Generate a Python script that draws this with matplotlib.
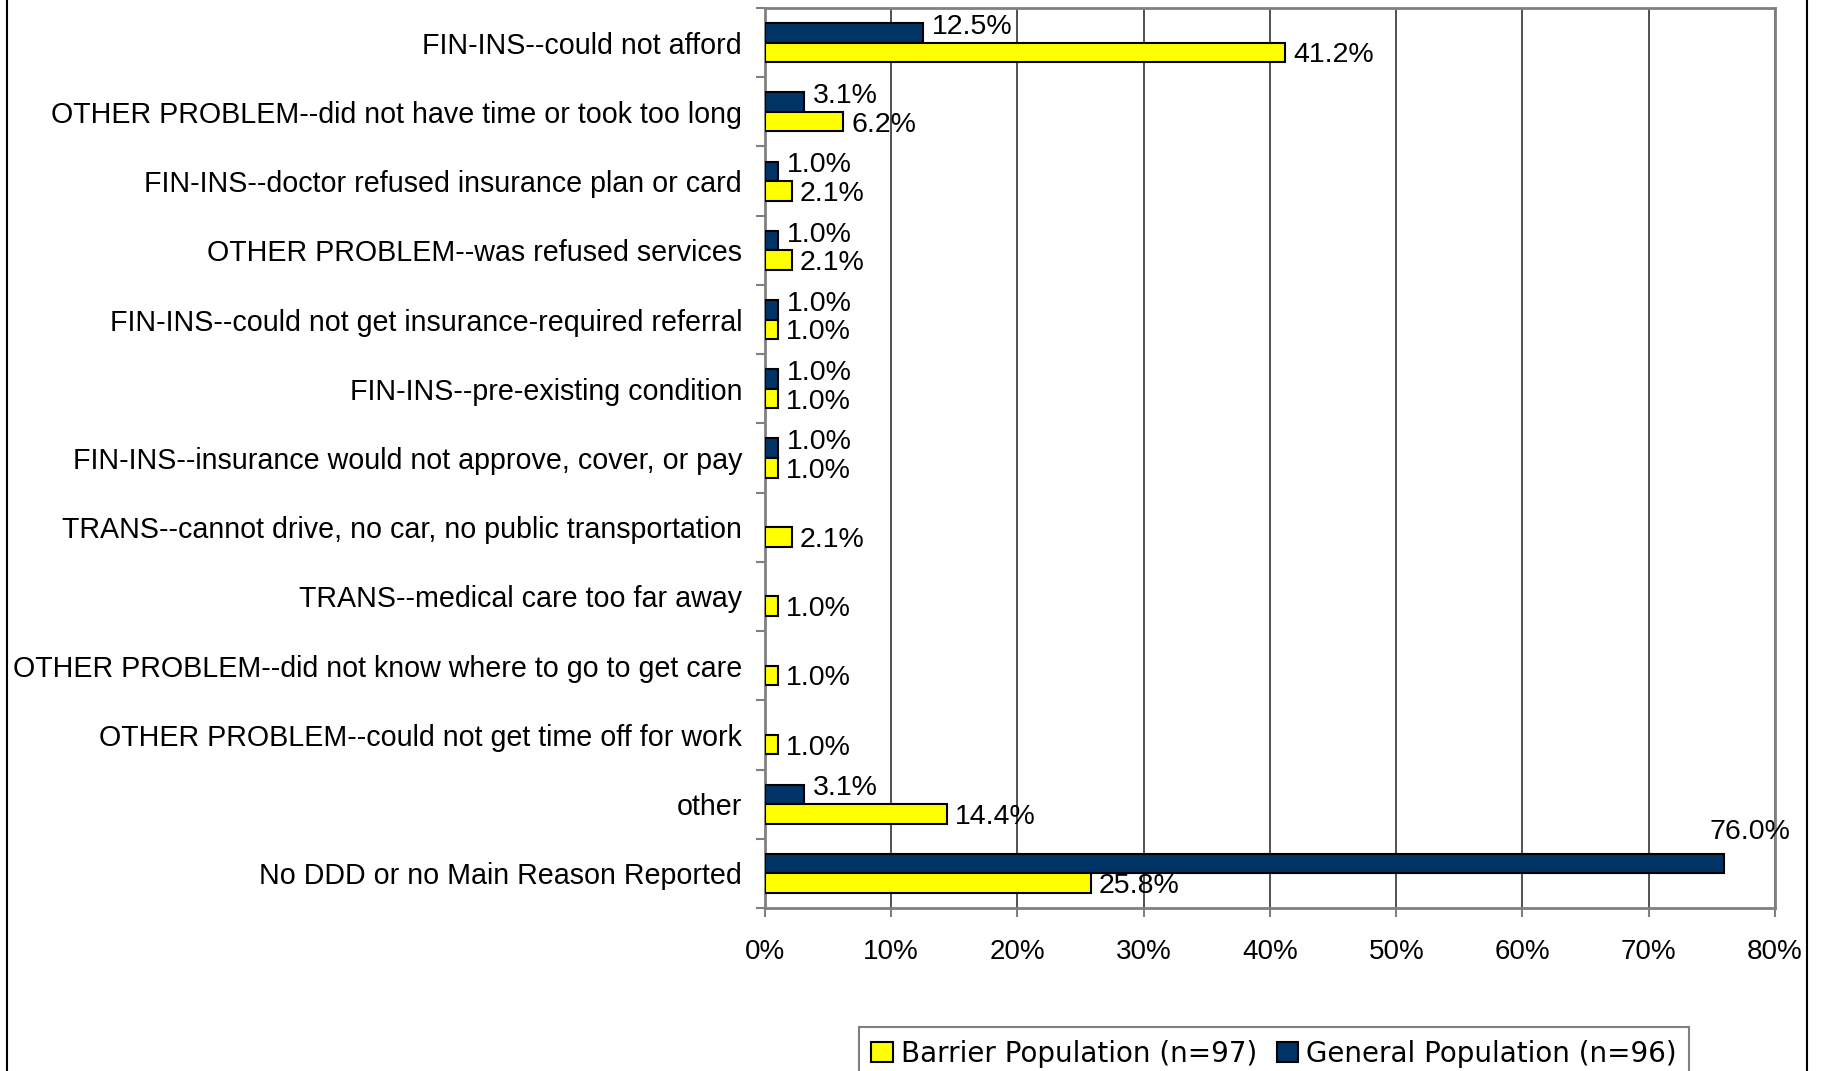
import matplotlib
matplotlib.use("Agg")
import matplotlib.pyplot as plt
from matplotlib.patches import Patch
from matplotlib.lines import Line2D
import numpy as np

#%% data

categories = [
    "FIN-INS--could not afford",
    "OTHER PROBLEM--did not have time or took too long",
    "FIN-INS--doctor refused insurance plan or card",
    "OTHER PROBLEM--was refused services",
    "FIN-INS--could not get insurance-required referral",
    "FIN-INS--pre-existing condition",
    "FIN-INS--insurance would not approve, cover, or pay",
    "TRANS--cannot drive, no car, no public transportation",
    "TRANS--medical care too far away",
    "OTHER PROBLEM--did not know where to go to get care",
    "OTHER PROBLEM--could not get time off for work",
    "other",
    "No DDD or no Main Reason Reported",
]
general = [12.5, 3.1, 1.0, 1.0, 1.0, 1.0, 1.0, 0, 0, 0, 0, 3.1, 76.0]
barrier = [41.2, 6.2, 2.1, 2.1, 1.0, 1.0, 1.0, 2.1, 1.0, 1.0, 1.0, 14.4, 25.8]
xticks = [0, 10, 20, 30, 40, 50, 60, 70, 80]

#%% plot

plt.rcParams["font.family"] = ["Liberation Sans", "DejaVu Sans"]

W, H = 1824, 1071
fig = plt.figure(figsize=(W / 100, H / 100), dpi=100)
ax = fig.add_axes([765 / W, 1 - 908 / H, (1775 - 765) / W, 900 / H])

navy = "#003366"
yellow = "#FFFF00"
gray = "#808080"
bh = 0.282
y = np.arange(len(categories))

# zero values -> no bar at all (otherwise the edge shows up on the axis)
g_arr = np.array(general, dtype=float)
b_arr = np.array(barrier, dtype=float)
g_arr[g_arr == 0] = np.nan
b_arr[b_arr == 0] = np.nan

ax.barh(y - bh / 2, g_arr, height=bh, color=navy, edgecolor="black", linewidth=1.5, zorder=3)
ax.barh(y + bh / 2, b_arr, height=bh, color=yellow, edgecolor="black", linewidth=1.5, zorder=3)

ax.set_xlim(0, 80)
ax.set_ylim(len(categories) - 0.5, -0.5)

ax.set_xticks(xticks)
ax.set_xticklabels([f"{t}%" for t in xticks], fontsize=20)
ax.tick_params(axis="x", direction="out", length=6.5, width=1.5, color=gray, pad=16)

ax.set_yticks(y)
ax.set_yticklabels(categories, fontsize=20.6)
ax.set_yticks(np.arange(len(categories) + 1) - 0.5, minor=True)
ax.tick_params(axis="y", which="major", length=0, pad=16.5)
ax.tick_params(axis="y", which="minor", direction="out", length=6.5, width=1.5, color=gray)

ax.grid(axis="x", color="#333333", linewidth=1.2, zorder=0)
ax.set_axisbelow(True)
for s in ax.spines.values():
    s.set_color(gray)
    s.set_linewidth(2)

# value labels
for i in range(len(categories)):
    g = general[i]
    b = barrier[i]
    if g > 0:
        if g > 70:
            ax.annotate(f"{g:.1f}%", xy=(g, i - bh / 2), xytext=(25, 32),
                        textcoords="offset pixels", ha="center", va="center", fontsize=20.5)
        else:
            ax.annotate(f"{g:.1f}%", xy=(g, i - bh / 2), xytext=(9, 6),
                        textcoords="offset pixels", ha="left", va="center", fontsize=20.5)
    if b > 0:
        ax.annotate(f"{b:.1f}%", xy=(b, i + bh / 2), xytext=(8, -3),
                    textcoords="offset pixels", ha="left", va="center", fontsize=20.5)

# legend
handles = [
    Patch(facecolor=yellow, edgecolor="black", linewidth=1.5, label="Barrier Population (n=97)"),
    Patch(facecolor=navy, edgecolor="black", linewidth=1.5, label="General Population (n=96)"),
]
leg = fig.legend(handles=handles, loc="upper left", ncol=2,
                 bbox_to_anchor=(859 / W, 1 - 1027 / H), bbox_transform=fig.transFigure,
                 borderaxespad=0, borderpad=0.45, handlelength=0.76, handleheight=0.76,
                 handletextpad=0.3, columnspacing=0.7, fancybox=False, framealpha=1,
                 prop={"family": "DejaVu Sans", "size": 20.0})
leg.get_frame().set_edgecolor(gray)
leg.get_frame().set_linewidth(1.5)

# outer border lines
fig.add_artist(Line2D([7.5 / W, 7.5 / W], [0, 1], transform=fig.transFigure, color="black", linewidth=1.5))
fig.add_artist(Line2D([1807.5 / W, 1807.5 / W], [0, 1], transform=fig.transFigure, color="black", linewidth=1.5))

plt.savefig("out.png", dpi=100)
